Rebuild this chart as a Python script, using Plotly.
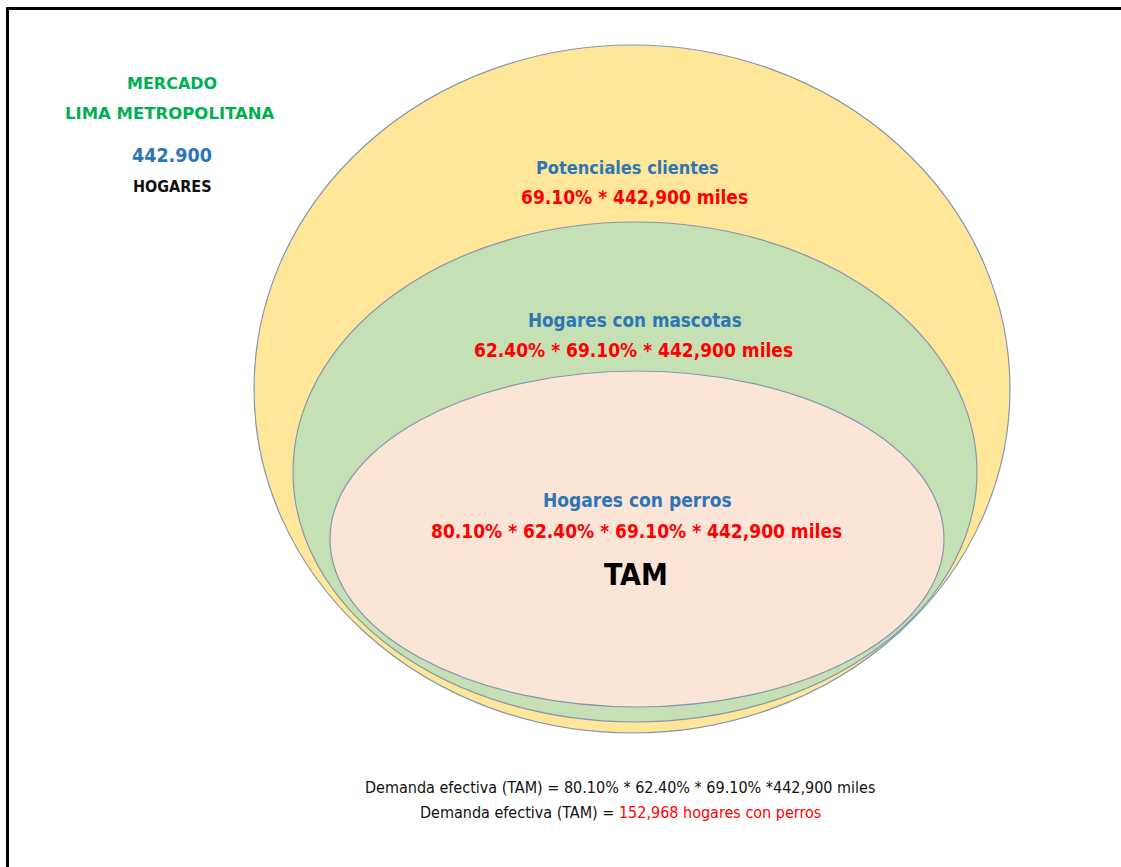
import plotly.graph_objects as go

# ---- data ----
levels = ["Mercado", "Potenciales clientes", "Hogares con mascotas", "Hogares con perros"]
market_total = "442,900"
pct_potenciales = "69.10%"
pct_mascotas = "62.40%"
pct_perros = "80.10%"
tam_result = "152,968"

# ellipse geometry (canvas units)
ell_cx = [632, 635, 637]
ell_cy = [389, 472, 539]
ell_rx = [378, 342, 307]
ell_ry = [344, 250, 168]
ell_fill = ["#FFE699", "#C5E0B4", "#FBE5D6"]

W, H = 1121, 867
FONT = "DejaVu Sans Condensed"
WIDE = "DejaVu Sans"
BLUE = "#2E75B6"
RED = "#FF0000"
GREEN = "#00B050"

fig = go.Figure()
fig.add_trace(go.Scatter(x=[0, W], y=[0, H], mode="markers", marker=dict(opacity=0), hoverinfo="skip", showlegend=False))

shapes = []
shapes.append(dict(type="rect", xref="x", yref="y", x0=7.5, y0=8.5, x1=W + 20, y1=H + 20,
                   line=dict(color="black", width=3), fillcolor="rgba(0,0,0,0)", layer="below"))
for cx, cy, rx, ry, col in zip(ell_cx, ell_cy, ell_rx, ell_ry, ell_fill):
    shapes.append(dict(type="circle", xref="x", yref="y", x0=cx - rx, x1=cx + rx, y0=cy - ry, y1=cy + ry,
                       fillcolor=col, line=dict(color="#8497B0", width=1.2), layer="below"))

ann = []
def add(x, y, text, size, color="black", bold=True, family=FONT):
    t = f"<b>{text}</b>" if bold else text
    ann.append(dict(x=x, y=y, xref="x", yref="y", text=t, showarrow=False,
                    font=dict(family=family, size=size, color=color), xanchor="center", yanchor="middle"))

add(172, 83, "MERCADO", 16, GREEN, family=WIDE)
add(170, 113, "LIMA METROPOLITANA", 16.5, GREEN, family=WIDE)
add(172, 155, market_total.replace(",", "."), 19.5, BLUE)
add(172, 186, "HOGARES", 16, "#111111")

add(627, 167, levels[1], 18, BLUE)
add(634, 197, f"{pct_potenciales} * {market_total} miles", 19, RED)
add(635, 320, levels[2], 18.7, BLUE)
add(633, 350, f"{pct_mascotas} * {pct_potenciales} * {market_total} miles", 19, RED)
add(637, 500, levels[3], 19, BLUE)
add(636, 531, f"{pct_perros} * {pct_mascotas} * {pct_potenciales} * {market_total} miles", 19, RED)
add(636, 574, "TAM", 30, "black")

add(620, 787, f"Demanda efectiva (TAM) = {pct_perros} * {pct_mascotas} * {pct_potenciales} *{market_total} miles", 16, "#111111", bold=False)
add(620, 812, f"Demanda efectiva (TAM) = <span style='color:{RED}'>{tam_result} hogares con perros</span>", 16, "#111111", bold=False)

fig.update_layout(
    width=W, height=H, margin=dict(l=0, r=0, t=0, b=0),
    paper_bgcolor="white", plot_bgcolor="white",
    xaxis=dict(range=[0, W], visible=False, fixedrange=True),
    yaxis=dict(range=[H, 0], visible=False, fixedrange=True),
    shapes=shapes, annotations=ann, showlegend=False,
)
fig.write_html("out.html", config={"displayModeBar": False},
               post_script="document.body.style.margin='0';document.body.style.overflow='hidden';")
